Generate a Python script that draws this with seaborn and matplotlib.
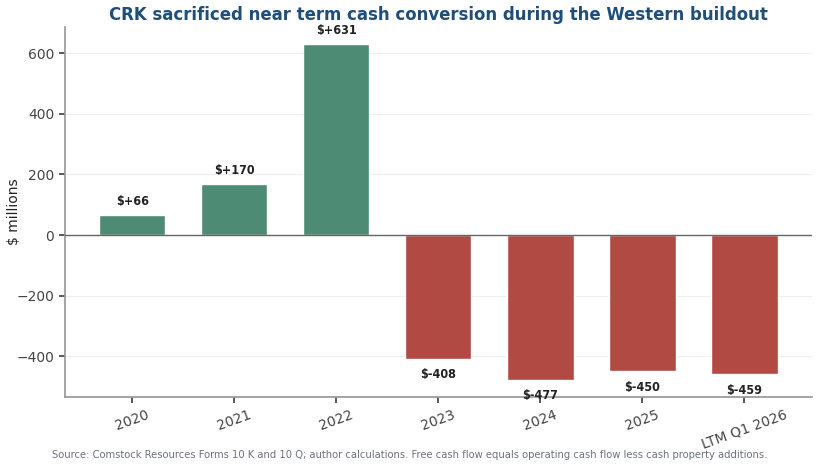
import matplotlib
matplotlib.use("Agg")
import matplotlib.pyplot as plt
import seaborn as sns
import pandas as pd

periods = ["2020", "2021", "2022", "2023", "2024", "2025", "LTM Q1 2026"]
fcf = [66, 170, 631, -408, -477, -450, -459]

df = pd.DataFrame({"period": periods, "fcf": fcf})
df["sign"] = ["pos" if v >= 0 else "neg" for v in fcf]

sns.set_theme(style="white")
plt.rcParams['font.family'] = ['DejaVu Sans']

fig, ax = plt.subplots(figsize=(8.2, 4.68), dpi=100)
palette = {"pos": "#4e8b74", "neg": "#b04a43"}
sns.barplot(data=df, x="period", y="fcf", hue="sign", palette=palette,
            width=0.65, dodge=False, legend=False, ax=ax, saturation=1)

ax.set_xlim(-0.66, 6.66)
ax.set_ylim(-534, 686)
ax.axhline(0, color="#666666", lw=1, zorder=3)
ax.yaxis.grid(True, color="#eeeeee", lw=0.8)
ax.set_axisbelow(True)

for i, v in enumerate(fcf):
    if v >= 0:
        ax.annotate(f"$+{v}", (i, v), xytext=(0, 5), textcoords="offset points",
                    ha="center", va="bottom", fontsize=9, fontweight="bold",
                    color="#222222", fontstretch="condensed")
    else:
        ax.annotate(f"${v}", (i, v), xytext=(0, -7), textcoords="offset points",
                    ha="center", va="top", fontsize=9, fontweight="bold",
                    color="#222222", fontstretch="condensed")

ax.set_title("CRK sacrificed near term cash conversion during the Western buildout",
             fontsize=13.2, fontweight="bold", color="#1f4e79", fontstretch="condensed", pad=5)
ax.set_xlabel("")
ax.set_ylabel("$ millions", fontsize=10, color="#222222")
ax.yaxis.set_label_coords(-0.058, 0.5)
ax.tick_params(axis="x", rotation=20, labelsize=10, colors="#444444", length=4, bottom=True)
ax.tick_params(axis="y", labelsize=10, colors="#444444", length=4, left=True)
for s in ["top", "right"]:
    ax.spines[s].set_visible(False)
for s in ["left", "bottom"]:
    ax.spines[s].set_color("#999999")

fig.text(0.5, 0.022, "Source: Comstock Resources Forms 10 K and 10 Q; author calculations. Free cash flow equals operating cash flow less cash property additions.",
         ha="center", fontsize=8, color="#6c7080", fontstretch="condensed")

fig.subplots_adjust(left=0.079, right=0.99, top=0.942, bottom=0.152)
fig.savefig("out.png", dpi=100)
